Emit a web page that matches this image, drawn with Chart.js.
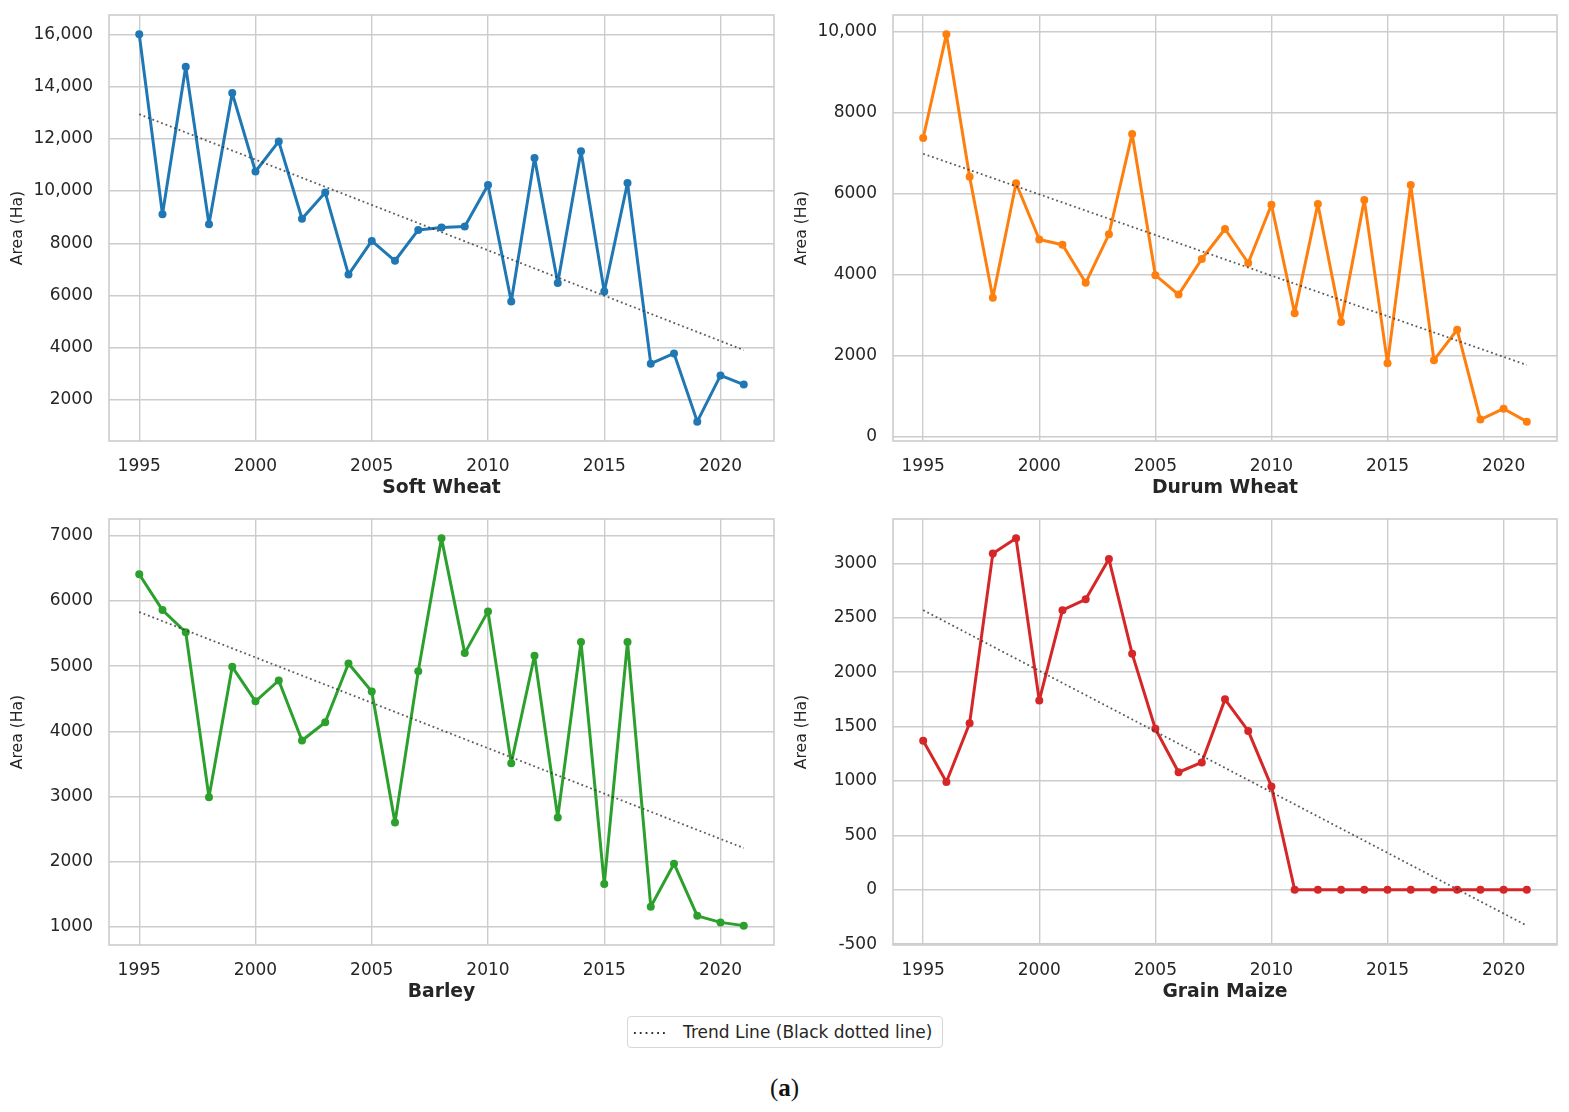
<!DOCTYPE html>
<html lang="en">
<head>
<meta charset="UTF-8">
<title>Crop Area Trends 1995-2021</title>
<script src="https://cdn.jsdelivr.net/npm/chart.js@4"></script>
<style>
    body {
        margin: 0;
        background: #fff;
        width: 1569px;
        height: 1112px;
        position: relative;
        overflow: hidden;
        font-family: 'DejaVu Sans', sans-serif;
        color: #262626;
    }
    canvas {
        position: absolute;
    }
    #softWheatChart { left: 0; top: 0; }
    #durumWheatChart { left: 784px; top: 0; }
    #barleyChart { left: 0; top: 504px; }
    #grainMaizeChart { left: 784px; top: 504px; }
    .legend {
        position: absolute;
        left: 627px;
        top: 1016px;
        width: 316px;
        height: 32px;
        box-sizing: border-box;
        border: 1px solid #d6d6d6;
        border-radius: 4px;
        font-size: 17px;
        line-height: 30px;
    }
    .legend svg {
        position: absolute;
        left: 5px;
        top: 14px;
    }
    .legend span {
        position: absolute;
        left: 55px;
        top: 0;
        white-space: nowrap;
    }
    .caption {
        position: absolute;
        left: 0;
        width: 1569px;
        top: 1073px;
        text-align: center;
        font-family: 'Liberation Serif', serif;
        font-size: 25px;
        line-height: 30px;
        color: #111;
    }
</style>
</head>
<body>

<canvas id="softWheatChart" width="784" height="510"></canvas>
<canvas id="durumWheatChart" width="785" height="510"></canvas>
<canvas id="barleyChart" width="784" height="510"></canvas>
<canvas id="grainMaizeChart" width="785" height="510"></canvas>

<!-- Legend shared by the four panels -->
<div class="legend">
    <svg width="36" height="4"><line x1="1" y1="2" x2="35" y2="2" stroke="#333" stroke-width="1.8" stroke-dasharray="1.8 4"/></svg>
    <span>Trend Line (Black dotted line)</span>
</div>
<div class="caption">(<b>a</b>)</div>

<script>
    // data (area in Ha)
    const years = [1995, 1996, 1997, 1998, 1999, 2000, 2001, 2002, 2003, 2004, 2005, 2006, 2007, 2008,
                   2009, 2010, 2011, 2012, 2013, 2014, 2015, 2016, 2017, 2018, 2019, 2020, 2021];

    const softWheat = [16000, 9110, 14760, 8730, 13750, 10750, 11900, 8940, 9940, 6800, 8090, 7330, 8510, 8600,
                       8640, 10230, 5770, 11270, 6480, 11520, 6150, 10310, 3390, 3780, 1170, 2940, 2590];
    const durumWheat = [7370, 9930, 6410, 3420, 6250, 4860, 4730, 3790, 4990, 7470, 3980, 3500, 4380, 5120,
                        4280, 5720, 3040, 5740, 2820, 5840, 1800, 6210, 1880, 2630, 410, 680, 360];
    const barley = [6410, 5860, 5520, 2990, 4990, 4460, 4780, 3860, 4140, 5040, 4610, 2600, 4920, 6960,
                    5200, 5840, 3510, 5160, 2680, 5370, 1660, 5370, 1310, 1970, 1170, 1070, 1020];
    const grainMaize = [1370, 990, 1530, 3090, 3230, 1740, 2570, 2670, 3040, 2170, 1480, 1080, 1170, 1750,
                        1460, 950, 0, 0, 0, 0, 0, 0, 0, 0, 0, 0, 0];

    // trend line end points (1995 and 2021)
    const trendYears = [1995, 2021];
    const softWheatTrend = [12940, 3910];
    const durumWheatTrend = [6980, 1760];
    const barleyTrend = [5830, 2210];
    const grainMaizeTrend = [2570, -330];

    // tick labels
    const yearTicks = [1995, 2000, 2005, 2010, 2015, 2020];
    const softWheatTicks = [2000, 4000, 6000, 8000, 10000, 12000, 14000, 16000];
    const durumWheatTicks = [0, 2000, 4000, 6000, 8000, 10000];
    const barleyTicks = [1000, 2000, 3000, 4000, 5000, 6000, 7000];
    const grainMaizeTicks = [-500, 0, 500, 1000, 1500, 2000, 2500, 3000];

    const gridColor = '#cccccc';
    const textColor = '#262626';

    // light grey frame round the plot area
    const framePlugin = {
        id: 'frame',
        beforeDatasetsDraw(chart) {
            const a = chart.chartArea;
            const ctx = chart.ctx;
            ctx.save();
            ctx.strokeStyle = gridColor;
            ctx.lineWidth = 1.6;
            ctx.strokeRect(a.left, a.top, a.right - a.left, a.bottom - a.top);
            ctx.restore();
        }
    };

    function formatArea(v) {
        return Math.abs(v) >= 10000 ? v.toLocaleString('en-US') : String(v);
    }

    function makePanel(id, title, values, trend, color, yTicks, padRight) {
        let all = values.concat(trend);
        let lo = Math.min(...all), hi = Math.max(...all);
        let margin = (hi - lo) * 0.05;

        let points = years.map((y, i) => ({ x: y, y: values[i] }));
        let trendPoints = trendYears.map((y, i) => ({ x: y, y: trend[i] }));

        new Chart(document.getElementById(id).getContext('2d'), {
            type: 'line',
            data: {
                datasets: [{
                    label: 'Trend Line (Black dotted line)',
                    data: trendPoints,
                    borderColor: 'rgba(50, 50, 50, 0.8)',
                    borderWidth: 1.8,
                    borderDash: [1.8, 2.9],
                    pointRadius: 0
                }, {
                    label: title,
                    data: points,
                    borderColor: color,
                    backgroundColor: color,
                    borderWidth: 3,
                    borderJoinStyle: 'round',
                    borderCapStyle: 'round',
                    pointRadius: 4,
                    pointBorderWidth: 0,
                    pointBackgroundColor: color,
                    tension: 0
                }]
            },
            options: {
                responsive: false,
                animation: false,
                layout: { padding: { top: 15, right: padRight, left: 0, bottom: 0 } },
                plugins: { legend: { display: false }, tooltip: { enabled: false } },
                scales: {
                    x: {
                        type: 'linear',
                        min: 1995 - 1.3,
                        max: 2021 + 1.3,
                        afterFit: s => { s.height = 69; s.paddingLeft = 0; s.paddingRight = 0; },
                        afterBuildTicks: s => { s.ticks = yearTicks.map(v => ({ value: v })); },
                        grid: { color: gridColor, lineWidth: 1.4, drawTicks: false },
                        border: { display: false },
                        ticks: {
                            padding: 15,
                            color: textColor,
                            font: { family: 'DejaVu Sans', size: 17 },
                            maxRotation: 0,
                            callback: v => String(v)
                        },
                        title: {
                            display: true,
                            text: title,
                            color: textColor,
                            font: { family: 'DejaVu Sans', size: 18.8, weight: 'bold' },
                            padding: { top: 0, bottom: 11 }
                        }
                    },
                    y: {
                        type: 'linear',
                        min: lo - margin,
                        max: hi + margin,
                        afterFit: s => { s.width = 109; s.paddingTop = 0; s.paddingBottom = 0; },
                        afterBuildTicks: s => { s.ticks = yTicks.map(v => ({ value: v })); },
                        grid: { color: gridColor, lineWidth: 1.4, drawTicks: false },
                        border: { display: false },
                        ticks: {
                            padding: 16,
                            color: textColor,
                            font: { family: 'DejaVu Sans', size: 17 },
                            callback: v => formatArea(v)
                        },
                        title: {
                            display: true,
                            text: 'Area (Ha)',
                            color: textColor,
                            font: { family: 'DejaVu Sans', size: 15.6 },
                            padding: { top: 9, bottom: 0 }
                        }
                    }
                }
            },
            plugins: [framePlugin]
        });
    }

    makePanel('softWheatChart', 'Soft Wheat', softWheat, softWheatTrend, '#1f77b4', softWheatTicks, 10);
    makePanel('durumWheatChart', 'Durum Wheat', durumWheat, durumWheatTrend, '#ff7f0e', durumWheatTicks, 12);
    makePanel('barleyChart', 'Barley', barley, barleyTrend, '#2ca02c', barleyTicks, 10);
    makePanel('grainMaizeChart', 'Grain Maize', grainMaize, grainMaizeTrend, '#d62728', grainMaizeTicks, 12);
</script>

</body>
</html>
